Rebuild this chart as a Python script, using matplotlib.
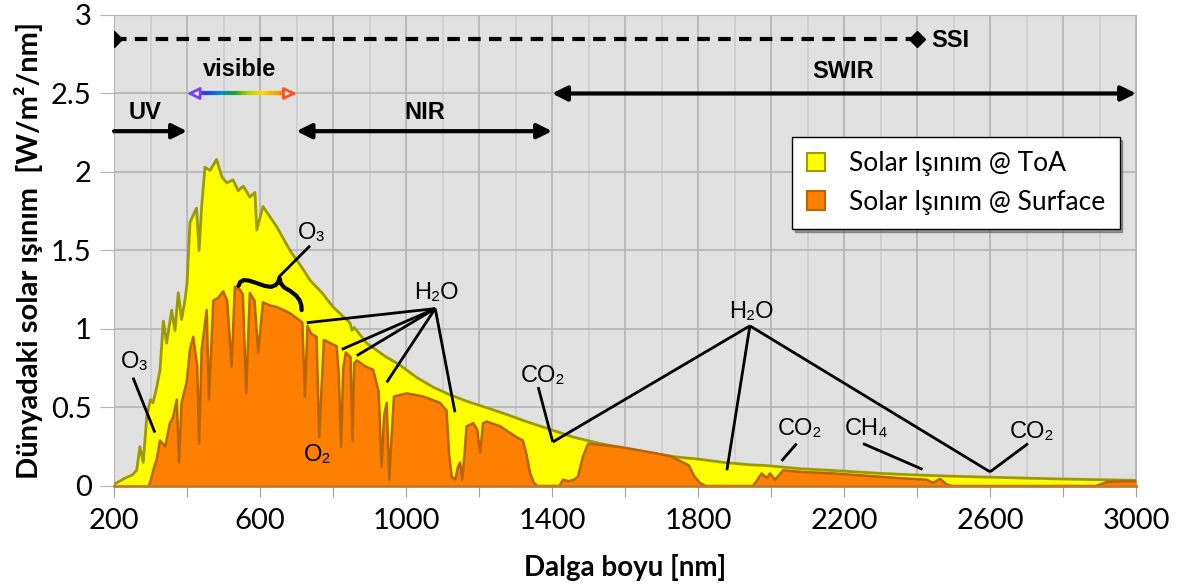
import numpy as np
import matplotlib
matplotlib.use("Agg")
import matplotlib.pyplot as plt
from matplotlib.patches import Patch
from matplotlib.collections import LineCollection
from matplotlib.colors import LinearSegmentedColormap

# solar irradiance (nm, W/m2/nm)
toa_wl = [200, 230, 250, 262, 271, 280, 290, 300, 307, 317, 326, 335, 344, 358, 367, 376, 385, 394,
          400, 408, 420, 426, 433, 440, 449, 463, 481, 495, 509, 526, 540, 554, 572, 586, 591, 608,
          646, 682, 718, 737, 770, 800, 846, 852, 858, 892, 940, 983, 1030, 1074, 1121, 1166, 1258,
          1330, 1395, 1460, 1532, 1600, 1668, 1740, 1805, 1870, 1942, 1988, 2079, 2197, 2300, 2399,
          2500, 2600, 2700, 2810, 2900, 3000]
toa_val = [0.01, 0.05, 0.07, 0.10, 0.25, 0.15, 0.45, 0.55, 0.53, 0.63, 0.74, 1.05, 0.91, 1.12, 0.99, 1.23,
           1.06, 1.18, 1.29, 1.68, 1.74, 1.77, 1.50, 1.78, 2.03, 2.01, 2.08, 1.97, 1.93, 1.95, 1.88, 1.91,
           1.84, 1.87, 1.63, 1.78, 1.65, 1.50, 1.38, 1.31, 1.23, 1.14, 1.04, 0.99, 1.01, 0.91, 0.83, 0.77,
           0.69, 0.63, 0.58, 0.54, 0.47, 0.41, 0.36, 0.31, 0.27, 0.24, 0.21, 0.185, 0.17, 0.15, 0.135,
           0.13, 0.11, 0.095, 0.08, 0.07, 0.062, 0.056, 0.05, 0.044, 0.04, 0.036]

srf_wl = [295, 300, 310, 317, 326, 340, 353, 362, 372, 378, 385, 399, 408, 417, 428, 433, 440, 454, 460,
          472, 486, 499, 510, 522, 531, 545, 553, 562, 572, 585, 595, 608, 627, 646, 665, 682, 700, 716,
          723, 730, 740, 755, 762, 768, 775, 810, 816, 822, 828, 835, 848, 853, 858, 865, 890, 910, 925,
          933, 940, 947, 954, 960, 967, 1002, 1047, 1093, 1111, 1118, 1125, 1135, 1142, 1148, 1154, 1160,
          1166, 1184, 1195, 1203, 1211, 1221, 1258, 1303, 1320, 1330, 1340, 1350, 1360, 1420, 1430, 1445,
          1460, 1471, 1485, 1499, 1540, 1580, 1632, 1680, 1723, 1759, 1775, 1790, 1805, 1820, 1950, 1960,
          1974, 1988, 1997, 2011, 2033, 2079, 2170, 2262, 2353, 2426, 2444, 2463, 2481, 2495, 2890, 2920,
          2960, 3000]
srf_val = [0.0, 0.03, 0.12, 0.17, 0.29, 0.25, 0.40, 0.44, 0.55, 0.15, 0.53, 0.66, 0.87, 0.95, 0.76, 0.27,
           0.87, 1.12, 0.55, 1.18, 1.20, 1.24, 1.18, 0.76, 1.27, 1.25, 1.22, 0.59, 1.23, 1.18, 0.85, 1.17,
           1.15, 1.14, 1.12, 1.10, 1.07, 1.04, 0.57, 1.02, 0.97, 0.95, 0.31, 0.60, 0.93, 0.89, 0.70, 0.25,
           0.75, 0.85, 0.82, 0.29, 0.78, 0.80, 0.76, 0.74, 0.60, 0.12, 0.45, 0.53, 0.04, 0.30, 0.57, 0.59,
           0.57, 0.53, 0.48, 0.20, 0.06, 0.04, 0.12, 0.15, 0.04, 0.20, 0.38, 0.40, 0.36, 0.21, 0.40, 0.41,
           0.38, 0.31, 0.29, 0.20, 0.08, 0.02, 0.0, 0.0, 0.04, 0.03, 0.04, 0.06, 0.19, 0.27, 0.26, 0.25,
           0.23, 0.21, 0.19, 0.15, 0.13, 0.06, 0.02, 0.0, 0.0, 0.03, 0.08, 0.05, 0.08, 0.04, 0.10, 0.09,
           0.08, 0.065, 0.05, 0.04, 0.02, 0.045, 0.01, 0.0, 0.0, 0.025, 0.03, 0.03]

xtick_vals = [200, 600, 1000, 1400, 1800, 2200, 2600, 3000]
ytick_vals = [0, 0.5, 1, 1.5, 2, 2.5, 3]
ytick_labels = ['0', '0.5', '1', '1.5', '2', '2.5', '3']
legend_labels = ['Solar Işınım @ ToA', 'Solar Işınım @ Surface']

# spectral band ranges (nm)
uv_band = (200, 400)
vis_band = (400, 700)
nir_band = (700, 1400)
swir_band = (1400, 3000)
ssi_band = (200, 2400)
vis_colors = ['#7a3cff', '#2040ff', '#0090c0', '#20a030', '#b8d400', '#ffd800', '#ff9a00', '#ff5020']

# absorption annotations (label, text pos, pointer lines)
brace_x = [541, 546, 556, 570, 590, 612, 630, 643, 650, 653, 657, 666, 684, 700, 709, 713, 714]
brace_y = [1.275, 1.300, 1.312, 1.308, 1.293, 1.275, 1.268, 1.280, 1.300, 1.325, 1.290, 1.265, 1.240,
           1.210, 1.180, 1.150, 1.120]
h2o_vis_apex = (1080, 1.13)
h2o_vis_targets = [(728, 1.04), (824, 0.87), (865, 0.83), (947, 0.66), (1134, 0.47)]
h2o_ir_apex = (1942, 1.02)
h2o_ir_targets = [(1402, 0.28), (1879, 0.10), (2600, 0.09)]
gas_lines = [((252, 0.69), (312, 0.34)),
             ((737, 1.53), (651, 1.33)),
             ((1362, 0.63), (1402, 0.28)),
             ((2070, 0.27), (2029, 0.16)),
             ((2252, 0.27), (2415, 0.106)),
             ((2704, 0.27), (2600, 0.09))]
gas_labels = [('O₃', 258, 0.79), ('O₃', 742, 1.61), ('H₂O', 1084, 1.23), ('O₂', 759, 0.20),
              ('CO₂', 1374, 0.70), ('H₂O', 1947, 1.11), ('CO₂', 2080, 0.36), ('CH₄', 2262, 0.36),
              ('CO₂', 2714, 0.346)]

yellow, olive = '#ffff00', '#9c9a00'
orange, brown = '#ff7f00', '#b8650a'
ann_font = ['Liberation Sans', 'DejaVu Sans']
num_font = ['Lato', 'DejaVu Sans']

fig = plt.figure(figsize=(11.78, 5.88), dpi=100)
ax = fig.add_axes([0.0968, 0.1735, 0.8676, 0.801])
ax.set_facecolor('#e1e1e1')

ax.fill_between(toa_wl, toa_val, color=yellow, lw=0, zorder=2)
ax.plot(toa_wl, toa_val, color=olive, lw=2, zorder=3)
ax.fill_between(srf_wl, srf_val, color=orange, lw=0, zorder=4)
ax.plot(srf_wl, srf_val, color=brown, lw=1.8, zorder=5)

ax.set_xlim(200, 3000)
ax.set_ylim(0, 3)
ax.set_xticks(range(200, 3001, 200))
ax.set_xticklabels([str(v) if v in xtick_vals else '' for v in range(200, 3001, 200)],
                   family=num_font, fontsize=21)
ax.set_xticks(range(200, 3001, 100), minor=True)
ax.set_yticks(ytick_vals)
ax.set_yticklabels(ytick_labels, family=num_font, fontsize=21)
ax.tick_params(axis='x', which='major', length=8, color='#a0a0a0', pad=8)
ax.tick_params(axis='x', which='minor', length=0)
ax.tick_params(axis='y', length=10, color='#b4b4b4', pad=6)
ax.grid(which='major', color='#b4b4b4', lw=1.2, zorder=1)
ax.grid(which='minor', axis='x', color='#cdcdcd', lw=1.2, zorder=1)
ax.set_axisbelow(True)
for side in ['left', 'top', 'right']:
    ax.spines[side].set_color('#b4b4b4')
ax.spines['bottom'].set_color('#c07a30')
ax.spines['bottom'].set_linewidth(2)
ax.spines['bottom'].set_zorder(6)

ax.set_xlabel('Dalga boyu [nm]', family=num_font, fontsize=20, fontweight='bold', labelpad=14)
ax.set_ylabel('Dünyadaki solar ışınım  [W/m²/nm]', family=num_font, fontsize=21,
              fontweight='bold', labelpad=6)

# band arrows
arrow_kw = dict(color='black', lw=3, shrinkA=0, shrinkB=0, mutation_scale=22)
ax.annotate('', xy=(uv_band[1], 2.26), xytext=(uv_band[0], 2.26),
            arrowprops=dict(arrowstyle='-|>', **arrow_kw), zorder=7)
ax.annotate('', xy=(nir_band[1], 2.26), xytext=(nir_band[0], 2.26),
            arrowprops=dict(arrowstyle='<|-|>', **arrow_kw), zorder=7)
ax.annotate('', xy=(swir_band[1], 2.5), xytext=(swir_band[0], 2.5),
            arrowprops=dict(arrowstyle='<|-|>', **arrow_kw), annotation_clip=False, zorder=7)
ax.plot(ssi_band, [2.85, 2.85], color='black', lw=3, ls=(0, (3, 2)), marker='D', ms=8,
        zorder=7, clip_on=True)

# rainbow "visible" arrow
cmap = LinearSegmentedColormap.from_list('vis', vis_colors)
xs = np.linspace(vis_band[0] + 12, vis_band[1] - 12, 120)
segs = [[(xs[i], 2.5), (xs[i + 1], 2.5)] for i in range(len(xs) - 1)]
lc = LineCollection(segs, colors=cmap(np.linspace(0, 1, len(segs))), lw=3, zorder=7)
ax.add_collection(lc)
ax.annotate('', xy=(vis_band[0], 2.5), xytext=(vis_band[0] + 14, 2.5),
            arrowprops=dict(arrowstyle='-|>', fc='#f0f0ff', ec=vis_colors[0], lw=2,
                            shrinkA=0, shrinkB=0, mutation_scale=18), zorder=7)
ax.annotate('', xy=(vis_band[1], 2.5), xytext=(vis_band[1] - 14, 2.5),
            arrowprops=dict(arrowstyle='-|>', fc='#fff0f0', ec=vis_colors[-1], lw=2,
                            shrinkA=0, shrinkB=0, mutation_scale=18), zorder=7)

band_kw = dict(family=ann_font, fontsize=17, fontweight='bold', ha='center', va='center', zorder=8)
ax.text(285, 2.38, 'UV', **band_kw)
ax.text(545, 2.65, 'visible', **band_kw)
ax.text(1050, 2.38, 'NIR', **band_kw)
ax.text(2197, 2.64, 'SWIR', **band_kw)
ax.text(2440, 2.84, 'SSI', ha='left', va='center', family=ann_font, fontsize=17,
        fontweight='bold', zorder=8)

# gas absorption labels
line_kw = dict(color='black', lw=2, zorder=8, solid_capstyle='butt')
ax.plot(brace_x, brace_y, color='black', lw=3, zorder=8, solid_joinstyle='round',
        solid_capstyle='round')
for a, b in gas_lines:
    ax.plot([a[0], b[0]], [a[1], b[1]], **line_kw)
for tx, ty in h2o_vis_targets:
    ax.plot([h2o_vis_apex[0], tx], [h2o_vis_apex[1], ty], **line_kw)
for tx, ty in h2o_ir_targets:
    ax.plot([h2o_ir_apex[0], tx], [h2o_ir_apex[1], ty], **line_kw)
for lab, tx, ty in gas_labels:
    ax.text(tx, ty, lab, family=ann_font, fontsize=17, ha='center', va='center', zorder=9)

handles = [Patch(facecolor=yellow, edgecolor=olive, lw=1.5),
           Patch(facecolor=orange, edgecolor=brown, lw=1.5)]
leg = ax.legend(handles, legend_labels, loc='upper right', bbox_to_anchor=(0.984, 0.741),
                prop={'family': num_font, 'size': 19}, frameon=True, fancybox=False,
                edgecolor='black', framealpha=1, shadow=True, handlelength=0.7,
                handleheight=0.7, handletextpad=0.9, borderpad=0.55, labelspacing=0.5,
                borderaxespad=0)
leg.get_frame().set_linewidth(1)
leg.set_zorder(10)

fig.savefig('out.png', dpi=100)
